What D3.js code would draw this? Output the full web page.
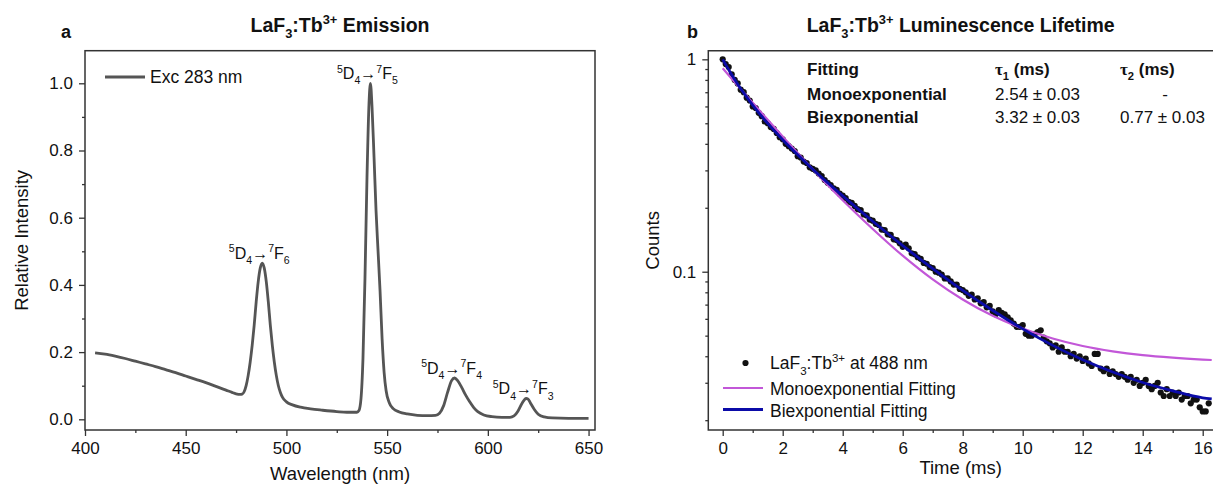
<!DOCTYPE html>
<html><head><meta charset="utf-8">
<script src="https://cdn.jsdelivr.net/npm/d3@7"></script>
<style>
body{margin:0;background:#fff}
text{font-family:"Liberation Sans",Arial,sans-serif;fill:#111}
</style>
</head><body>
<svg id="c" width="1213" height="486"></svg>
<script>
// ---------- Panel a: emission spectrum ----------
const wavelength = [405,410,415,420,425,430,435,440,445,450,455,460,465,470,473,475,477,478,479,480,481,482,483,484,485,486,487,488,489,490,491,492,493,494,495,496,497,498,500,503,507,512,518,525,530,535,536,537,538,539,540,541,541.7,542.5,543.5,544.5,545.5,546.5,547.5,548.5,549.5,551,553,556,560,565,570,574,576,578,580,582,583.5,585,587,589,591,593,595,598,602,607,611,613,615,617,619,620,621,623,625,628,632,640,650];
const intensity = [0.198,0.194,0.188,0.181,0.173,0.165,0.157,0.148,0.139,0.129,0.119,0.109,0.098,0.087,0.080,0.076,0.074,0.075,0.082,0.100,0.130,0.170,0.220,0.280,0.350,0.410,0.450,0.465,0.450,0.410,0.350,0.280,0.220,0.170,0.130,0.100,0.080,0.066,0.052,0.043,0.036,0.031,0.027,0.023,0.021,0.021,0.026,0.060,0.180,0.420,0.720,0.940,1.000,0.930,0.780,0.620,0.500,0.380,0.240,0.140,0.085,0.050,0.032,0.022,0.016,0.012,0.011,0.012,0.018,0.040,0.080,0.115,0.123,0.115,0.095,0.072,0.052,0.035,0.023,0.013,0.008,0.006,0.006,0.010,0.025,0.048,0.062,0.060,0.050,0.030,0.015,0.007,0.004,0.003,0.003];
const peakWavelengths = [488, 541.7, 583.5, 619];
const peakFinalStates = ["6", "5", "4", "3"];
const xTicksA = [400,450,500,550,600,650];
const yTicksA = [0,0.2,0.4,0.6,0.8,1.0];

// ---------- Panel b: luminescence decay ----------
const timeMs = [0,0.1,0.2,0.3,0.4,0.5,0.6,0.7,0.8,0.9,1.0,1.1,1.2,1.3,1.4,1.5,1.6,1.7,1.8,1.9,2.0,2.1,2.2,2.3,2.4,2.5,2.6,2.7,2.8,2.9,3.0,3.1,3.2,3.3,3.4,3.5,3.6,3.7,3.8,3.9,4.0,4.1,4.2,4.3,4.4,4.5,4.6,4.7,4.8,4.9,5.0,5.1,5.2,5.3,5.4,5.5,5.6,5.7,5.8,5.9,6.0,6.1,6.2,6.3,6.4,6.5,6.6,6.7,6.8,6.9,7.0,7.1,7.2,7.3,7.4,7.5,7.6,7.7,7.8,7.9,8.0,8.1,8.2,8.3,8.4,8.5,8.6,8.7,8.8,8.9,9.0,9.1,9.2,9.3,9.4,9.5,9.6,9.7,9.8,9.9,10.0,10.1,10.2,10.3,10.4,10.5,10.6,10.7,10.8,10.9,11.0,11.1,11.2,11.3,11.4,11.5,11.6,11.7,11.8,11.9,12.0,12.1,12.2,12.3,12.4,12.5,12.6,12.7,12.8,12.9,13.0,13.1,13.2,13.3,13.4,13.5,13.6,13.7,13.8,13.9,14.0,14.1,14.2,14.3,14.4,14.5,14.6,14.7,14.8,14.9,15.0,15.1,15.2,15.3,15.4,15.5,15.6,15.7,15.8,15.9,16.0,16.1,16.2];
const counts = [1.00,0.95,0.92,0.85,0.80,0.77,0.72,0.70,0.66,0.64,0.60,0.59,0.56,0.54,0.51,0.50,0.48,0.47,0.45,0.43,0.42,0.40,0.39,0.38,0.37,0.35,0.345,0.33,0.325,0.31,0.305,0.30,0.29,0.282,0.27,0.262,0.256,0.247,0.243,0.233,0.228,0.222,0.213,0.211,0.204,0.197,0.195,0.186,0.184,0.176,0.174,0.168,0.166,0.158,0.157,0.150,0.149,0.142,0.141,0.136,0.131,0.134,0.129,0.122,0.121,0.117,0.115,0.110,0.109,0.105,0.104,0.100,0.099,0.097,0.093,0.093,0.090,0.087,0.087,0.083,0.082,0.080,0.077,0.078,0.074,0.075,0.071,0.072,0.068,0.069,0.065,0.063,0.066,0.064,0.063,0.061,0.059,0.057,0.055,0.055,0.056,0.051,0.050,0.050,0.051,0.052,0.053,0.049,0.047,0.046,0.044,0.045,0.042,0.044,0.042,0.042,0.040,0.041,0.039,0.040,0.038,0.039,0.037,0.036,0.041,0.041,0.035,0.034,0.035,0.033,0.034,0.033,0.032,0.033,0.032,0.031,0.032,0.030,0.031,0.029,0.030,0.031,0.029,0.028,0.029,0.030,0.027,0.026,0.028,0.026,0.027,0.026,0.027,0.025,0.026,0.026,0.024,0.025,0.025,0.023,0.022,0.022,0.024];
const fitTime = [0,0.25,0.5,0.75,1,1.5,2,2.5,3,3.5,4,5,6,7,8,9,10,11,12,13,14,15,16,16.3];
const monoFit = [0.907,0.825,0.752,0.685,0.624,0.519,0.433,0.362,0.304,0.256,0.217,0.159,0.119,0.092,0.074,0.062,0.054,0.0485,0.0447,0.0422,0.0405,0.0394,0.0386,0.0384];
const biFit = [1.000,0.869,0.764,0.679,0.608,0.499,0.418,0.355,0.304,0.2625,0.2276,0.1728,0.1328,0.1034,0.0817,0.0657,0.0538,0.0450,0.0385,0.0337,0.0301,0.0275,0.0255,0.0252];
const xTicksB = [0,2,4,6,8,10,12,14,16];
const fitNames = ["Fitting", "Monoexponential", "Biexponential"];
const tau1 = ["2.54 ± 0.03", "3.32 ± 0.03"];
const tau2 = ["-", "0.77 ± 0.03"];

const svg = d3.select("#c");
const FRAME = "#333";

function rich(textSel, parts, size) {
  let shift = 0;
  parts.forEach(p => {
    const mode = p[1];
    const target = mode === "sub" ? size * 0.32 : mode === "sup" ? -size * 0.42 : 0;
    const t = textSel.append("tspan").attr("dy", target - shift)
      .attr("font-size", mode ? size * 0.66 : size).text(p[0]);
    if (p[2]) t.style("font-family", p[2]);
    shift = target;
  });
  return textSel;
}

function styleAxis(g, fs) {
  g.select(".domain").remove();
  g.selectAll(".tick line").attr("stroke", FRAME).attr("stroke-width", 1.3);
  g.selectAll(".tick text").attr("font-size", fs).attr("fill", "#111");
}

// ===== Panel a =====
const A = {l: 85, r: 595, t: 50.7, b: 430};
const xa = d3.scaleLinear().domain([400, 653.2]).range([A.l, A.r]);
const ya = d3.scaleLinear().domain([-0.0318, 1.097]).range([A.b, A.t]);

let g = svg.append("g").attr("transform", `translate(0,${A.b})`)
  .call(d3.axisBottom(xa).tickValues(xTicksA).tickSize(6).tickPadding(6).tickFormat(d3.format("d")));
styleAxis(g, 17);
g = svg.append("g").attr("transform", `translate(0,${A.b})`)
  .call(d3.axisBottom(xa).tickValues(xTicksA.slice(0, -1).map(v => v + 25)).tickSize(3).tickFormat(""));
styleAxis(g, 17);
g = svg.append("g").attr("transform", `translate(${A.l},0)`)
  .call(d3.axisLeft(ya).tickValues(yTicksA).tickSize(6).tickPadding(6).tickFormat(d3.format(".1f")));
styleAxis(g, 17);
g = svg.append("g").attr("transform", `translate(${A.l},0)`)
  .call(d3.axisLeft(ya).tickValues(yTicksA.slice(0, -1).map(v => v + 0.1)).tickSize(3).tickFormat(""));
styleAxis(g, 17);

svg.append("rect").attr("x", A.l).attr("y", A.t).attr("width", A.r - A.l).attr("height", A.b - A.t)
  .attr("fill", "none").attr("stroke", FRAME).attr("stroke-width", 1.5);

const specData = wavelength.map((w, i) => [w, intensity[i]]);
svg.append("path").datum(specData)
  .attr("fill", "none").attr("stroke", "#555").attr("stroke-width", 2.8).attr("stroke-linejoin", "round")
  .attr("d", d3.line().x(d => xa(d[0])).y(d => ya(d[1])).curve(d3.curveMonotoneX));

peakWavelengths.forEach((nm, i) => {
  const idx = wavelength.indexOf(nm);
  const px = xa(nm), py = ya(intensity[idx]);
  const t = svg.append("text").attr("x", px - 3).attr("y", py - 4).attr("text-anchor", "middle");
  rich(t, [["5", "sup"], ["D"], ["4", "sub"], ["→"], ["7", "sup"], ["F"], [peakFinalStates[i], "sub"]], 16);
});

// legend a
svg.append("line").attr("x1", 105).attr("x2", 145).attr("y1", 77).attr("y2", 77)
  .attr("stroke", "#555").attr("stroke-width", 2.8);
svg.append("text").attr("x", 150).attr("y", 83).attr("font-size", 17.5).text("Exc 283 nm");

// labels a
svg.append("text").attr("x", (A.l + A.r) / 2).attr("y", 480).attr("text-anchor", "middle")
  .attr("font-size", 18.5).text("Wavelength (nm)");
svg.append("text").attr("transform", `translate(28,${(A.t + A.b) / 2}) rotate(-90)`).attr("text-anchor", "middle")
  .attr("font-size", 18.5).text("Relative Intensity");
rich(svg.append("text").attr("x", (A.l + A.r) / 2).attr("y", 32).attr("text-anchor", "middle").attr("font-weight", "bold"),
  [["LaF"], ["3", "sub"], [":Tb"], ["3+", "sup"], [" Emission"]], 19.5);
svg.append("text").attr("x", 61).attr("y", 38).attr("font-size", 18).attr("font-weight", "bold").text("a");

// ===== Panel b =====
const B = {l: 708.3, r: 1213, t: 50.7, b: 430};
const xb = d3.scaleLinear().domain([-0.48, 16.343]).range([B.l, B.r]);
const yb = d3.scaleLog().domain([0.01798, 1.098]).range([B.b, B.t]);

g = svg.append("g").attr("transform", `translate(0,${B.b})`)
  .call(d3.axisBottom(xb).tickValues(xTicksB).tickSize(6).tickPadding(6).tickFormat(d3.format("d")));
styleAxis(g, 17);
g = svg.append("g").attr("transform", `translate(0,${B.b})`)
  .call(d3.axisBottom(xb).tickValues(xTicksB.map(v => v + 1)).tickSize(3).tickFormat(""));
styleAxis(g, 17);
const majorY = yb.ticks().filter(v => Math.abs(Math.log10(v) - Math.round(Math.log10(v))) < 1e-9);
const minorY = yb.ticks().filter(v => !majorY.includes(v));
g = svg.append("g").attr("transform", `translate(${B.l},0)`)
  .call(d3.axisLeft(yb).tickValues(majorY).tickSize(6).tickPadding(6).tickFormat(d => d >= 1 ? "1" : String(+d.toFixed(2))));
styleAxis(g, 17);
g = svg.append("g").attr("transform", `translate(${B.l},0)`)
  .call(d3.axisLeft(yb).tickValues(minorY).tickSize(3).tickFormat(""));
styleAxis(g, 17);

svg.append("path").attr("d", `M${B.r + 2},${B.t}H${B.l}V${B.b}H${B.r + 2}`)
  .attr("fill", "none").attr("stroke", FRAME).attr("stroke-width", 1.5);

svg.append("clipPath").attr("id", "clipb").append("rect")
  .attr("x", B.l).attr("y", B.t).attr("width", B.r - B.l + 5).attr("height", B.b - B.t);
const pb = svg.append("g").attr("clip-path", "url(#clipb)");

pb.selectAll("circle.pt").data(timeMs.map((t, i) => [t, counts[i]])).join("circle").attr("class", "pt")
  .attr("cx", d => xb(d[0])).attr("cy", d => yb(d[1])).attr("r", 3.1).attr("fill", "#111");

const fitLine = d3.line().x(d => xb(d[0])).y(d => yb(d[1])).curve(d3.curveMonotoneX);
pb.append("path").datum(fitTime.map((t, i) => [t, monoFit[i]]))
  .attr("fill", "none").attr("stroke", "#c257d8").attr("stroke-width", 2.2).attr("d", fitLine);
pb.append("path").datum(fitTime.map((t, i) => [t, biFit[i]]))
  .attr("fill", "none").attr("stroke", "#0b0ba8").attr("stroke-width", 2.8).attr("d", fitLine);

// table
const rowsY = [75, 100, 123];
fitNames.forEach((n, i) => {
  svg.append("text").attr("x", 807).attr("y", rowsY[i]).attr("font-size", 17).attr("font-weight", "bold").text(n);
});
rich(svg.append("text").attr("x", 995).attr("y", rowsY[0]).attr("font-weight", "bold"),
  [["τ", null, "'Liberation Serif', serif"], ["1", "sub"], [" (ms)"]], 17);
rich(svg.append("text").attr("x", 1120).attr("y", rowsY[0]).attr("font-weight", "bold"),
  [["τ", null, "'Liberation Serif', serif"], ["2", "sub"], [" (ms)"]], 17);
tau1.forEach((v, i) => svg.append("text").attr("x", 995).attr("y", rowsY[i + 1]).attr("font-size", 17).text(v));
tau2.forEach((v, i) => {
  const t = svg.append("text").attr("y", rowsY[i + 1]).attr("font-size", 17).text(v);
  if (v === "-") t.attr("x", 1165).attr("text-anchor", "middle"); else t.attr("x", 1120);
});

// legend b
svg.append("circle").attr("cx", 745.5).attr("cy", 363).attr("r", 3.1).attr("fill", "#111");
rich(svg.append("text").attr("x", 770).attr("y", 369),
  [["LaF"], ["3", "sub"], [":Tb"], ["3+", "sup"], [" at 488 nm"]], 17.5);
svg.append("line").attr("x1", 723).attr("x2", 763).attr("y1", 388).attr("y2", 388)
  .attr("stroke", "#c257d8").attr("stroke-width", 2.2);
svg.append("text").attr("x", 770).attr("y", 395).attr("font-size", 17.5).text("Monoexponential Fitting");
svg.append("line").attr("x1", 723).attr("x2", 763).attr("y1", 409.5).attr("y2", 409.5)
  .attr("stroke", "#0b0ba8").attr("stroke-width", 2.8);
svg.append("text").attr("x", 770).attr("y", 416.5).attr("font-size", 17.5).text("Biexponential Fitting");

svg.append("text").attr("x", (B.l + B.r) / 2).attr("y", 474).attr("text-anchor", "middle")
  .attr("font-size", 18.5).text("Time (ms)");
svg.append("text").attr("transform", `translate(659,${(B.t + B.b) / 2}) rotate(-90)`).attr("text-anchor", "middle")
  .attr("font-size", 18.5).text("Counts");
rich(svg.append("text").attr("x", (B.l + B.r) / 2).attr("y", 32).attr("text-anchor", "middle").attr("font-weight", "bold"),
  [["LaF"], ["3", "sub"], [":Tb"], ["3+", "sup"], [" Luminescence Lifetime"]], 19.5);
svg.append("text").attr("x", 687).attr("y", 38).attr("font-size", 18).attr("font-weight", "bold").text("b");
</script>
</body></html>
